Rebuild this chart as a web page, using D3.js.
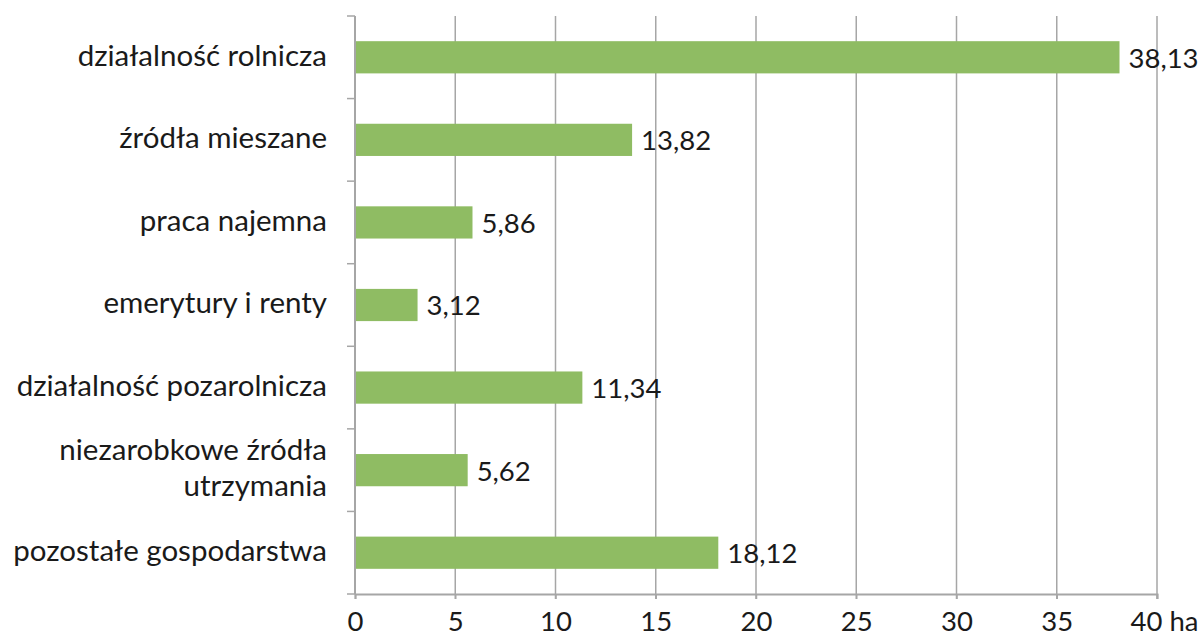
<!DOCTYPE html>
<html>
<head>
<meta charset="utf-8">
<script src="https://cdn.jsdelivr.net/npm/d3@7"></script>
<style>
  html, body { margin: 0; padding: 0; background: #fff; }
  svg text { font-family: Lato, "Open Sans", sans-serif; fill: #1a1a1a; }
</style>
</head>
<body>
<svg id="chart" width="1204" height="637"></svg>
<script>
// Average farm area (ha) by main source of household income
const categories = [
  ["działalność rolnicza"],
  ["źródła mieszane"],
  ["praca najemna"],
  ["emerytury i renty"],
  ["działalność pozarolnicza"],
  ["niezarobkowe źródła", "utrzymania"],
  ["pozostałe gospodarstwa"]
];
const values = [38.13, 13.82, 5.86, 3.12, 11.34, 5.62, 18.12];
const xTicks = [0, 5, 10, 15, 20, 25, 30, 35, 40];
const unitLabel = "ha";

const svg = d3.select("#chart");
const margin = { left: 355, right: 47, top: 16, bottom: 43 };
const W = 1204, H = 637;

const x = d3.scaleLinear().domain([0, 40]).range([margin.left, W - margin.right]);
const y = d3.scaleBand()
  .domain(d3.range(categories.length))
  .range([margin.top, H - margin.bottom])
  .paddingInner(0.61)
  .paddingOuter(0.305);

const fmt = v => v.toFixed(2).replace(".", ",");
const numSize = 27.5;
const catSize = 29.5;

// vertical gridlines
svg.append("g")
  .selectAll("line")
  .data(xTicks.filter(t => t > 0))
  .join("line")
  .attr("x1", d => x(d)).attr("x2", d => x(d))
  .attr("y1", margin.top).attr("y2", H - margin.bottom + 5)
  .attr("stroke", "#a6a6a6").attr("stroke-width", 1.5);

// bars
svg.append("g")
  .selectAll("rect")
  .data(values)
  .join("rect")
  .attr("x", x(0))
  .attr("y", (d, i) => y(i))
  .attr("width", d => x(d) - x(0))
  .attr("height", y.bandwidth())
  .attr("fill", "#8fbc63");

// value labels
svg.append("g")
  .selectAll("text")
  .data(values)
  .join("text")
  .attr("x", d => x(d) + 9)
  .attr("y", (d, i) => y(i) + y.bandwidth() / 2)
  .attr("dy", "0.38em")
  .attr("font-size", numSize)
  .text(d => fmt(d));

// x axis
const xAxis = d3.axisBottom(x).tickValues(xTicks).tickSize(5).tickPadding(12)
  .tickFormat((d) => d === 40 ? d + " " + unitLabel : d);
const gx = svg.append("g")
  .attr("transform", `translate(0,${H - margin.bottom})`)
  .call(xAxis);
gx.select(".domain").attr("stroke", "#a6a6a6").attr("stroke-width", 2);
gx.selectAll(".tick line").attr("stroke", "#a6a6a6").attr("stroke-width", 1.5);
gx.selectAll(".tick text")
  .attr("font-size", numSize)
  .attr("font-family", "Lato, 'Open Sans', sans-serif")
  .attr("fill", "#1a1a1a")
  .attr("text-anchor", d => d === 40 ? "start" : "middle")
  .attr("dx", d => d === 40 ? "-0.98em" : 0);

// y axis: category band boundary ticks
const bandEdges = d3.range(categories.length + 1).map(i => margin.top + i * y.step());
svg.append("line")
  .attr("x1", x(0)).attr("x2", x(0))
  .attr("y1", margin.top).attr("y2", H - margin.bottom)
  .attr("stroke", "#a6a6a6").attr("stroke-width", 2);
svg.append("g")
  .selectAll("line")
  .data(bandEdges)
  .join("line")
  .attr("x1", x(0) - 8).attr("x2", x(0))
  .attr("y1", d => d).attr("y2", d => d)
  .attr("stroke", "#a6a6a6").attr("stroke-width", 1.5);

// category labels
const lineH = 36;
svg.append("g")
  .selectAll("text")
  .data(categories)
  .join("text")
  .attr("text-anchor", "end")
  .attr("font-size", catSize)
  .attr("y", (d, i) => y(i) + y.bandwidth() / 2)
  .each(function(lines) {
    const t = d3.select(this);
    const off = -(lines.length - 1) * lineH / 2;
    lines.forEach((ln, k) => {
      t.append("tspan")
        .attr("x", 327)
        .attr("dy", k === 0 ? (off / catSize + 0.28) + "em" : lineH + "px")
        .text(ln);
    });
  });
</script>
</body>
</html>
